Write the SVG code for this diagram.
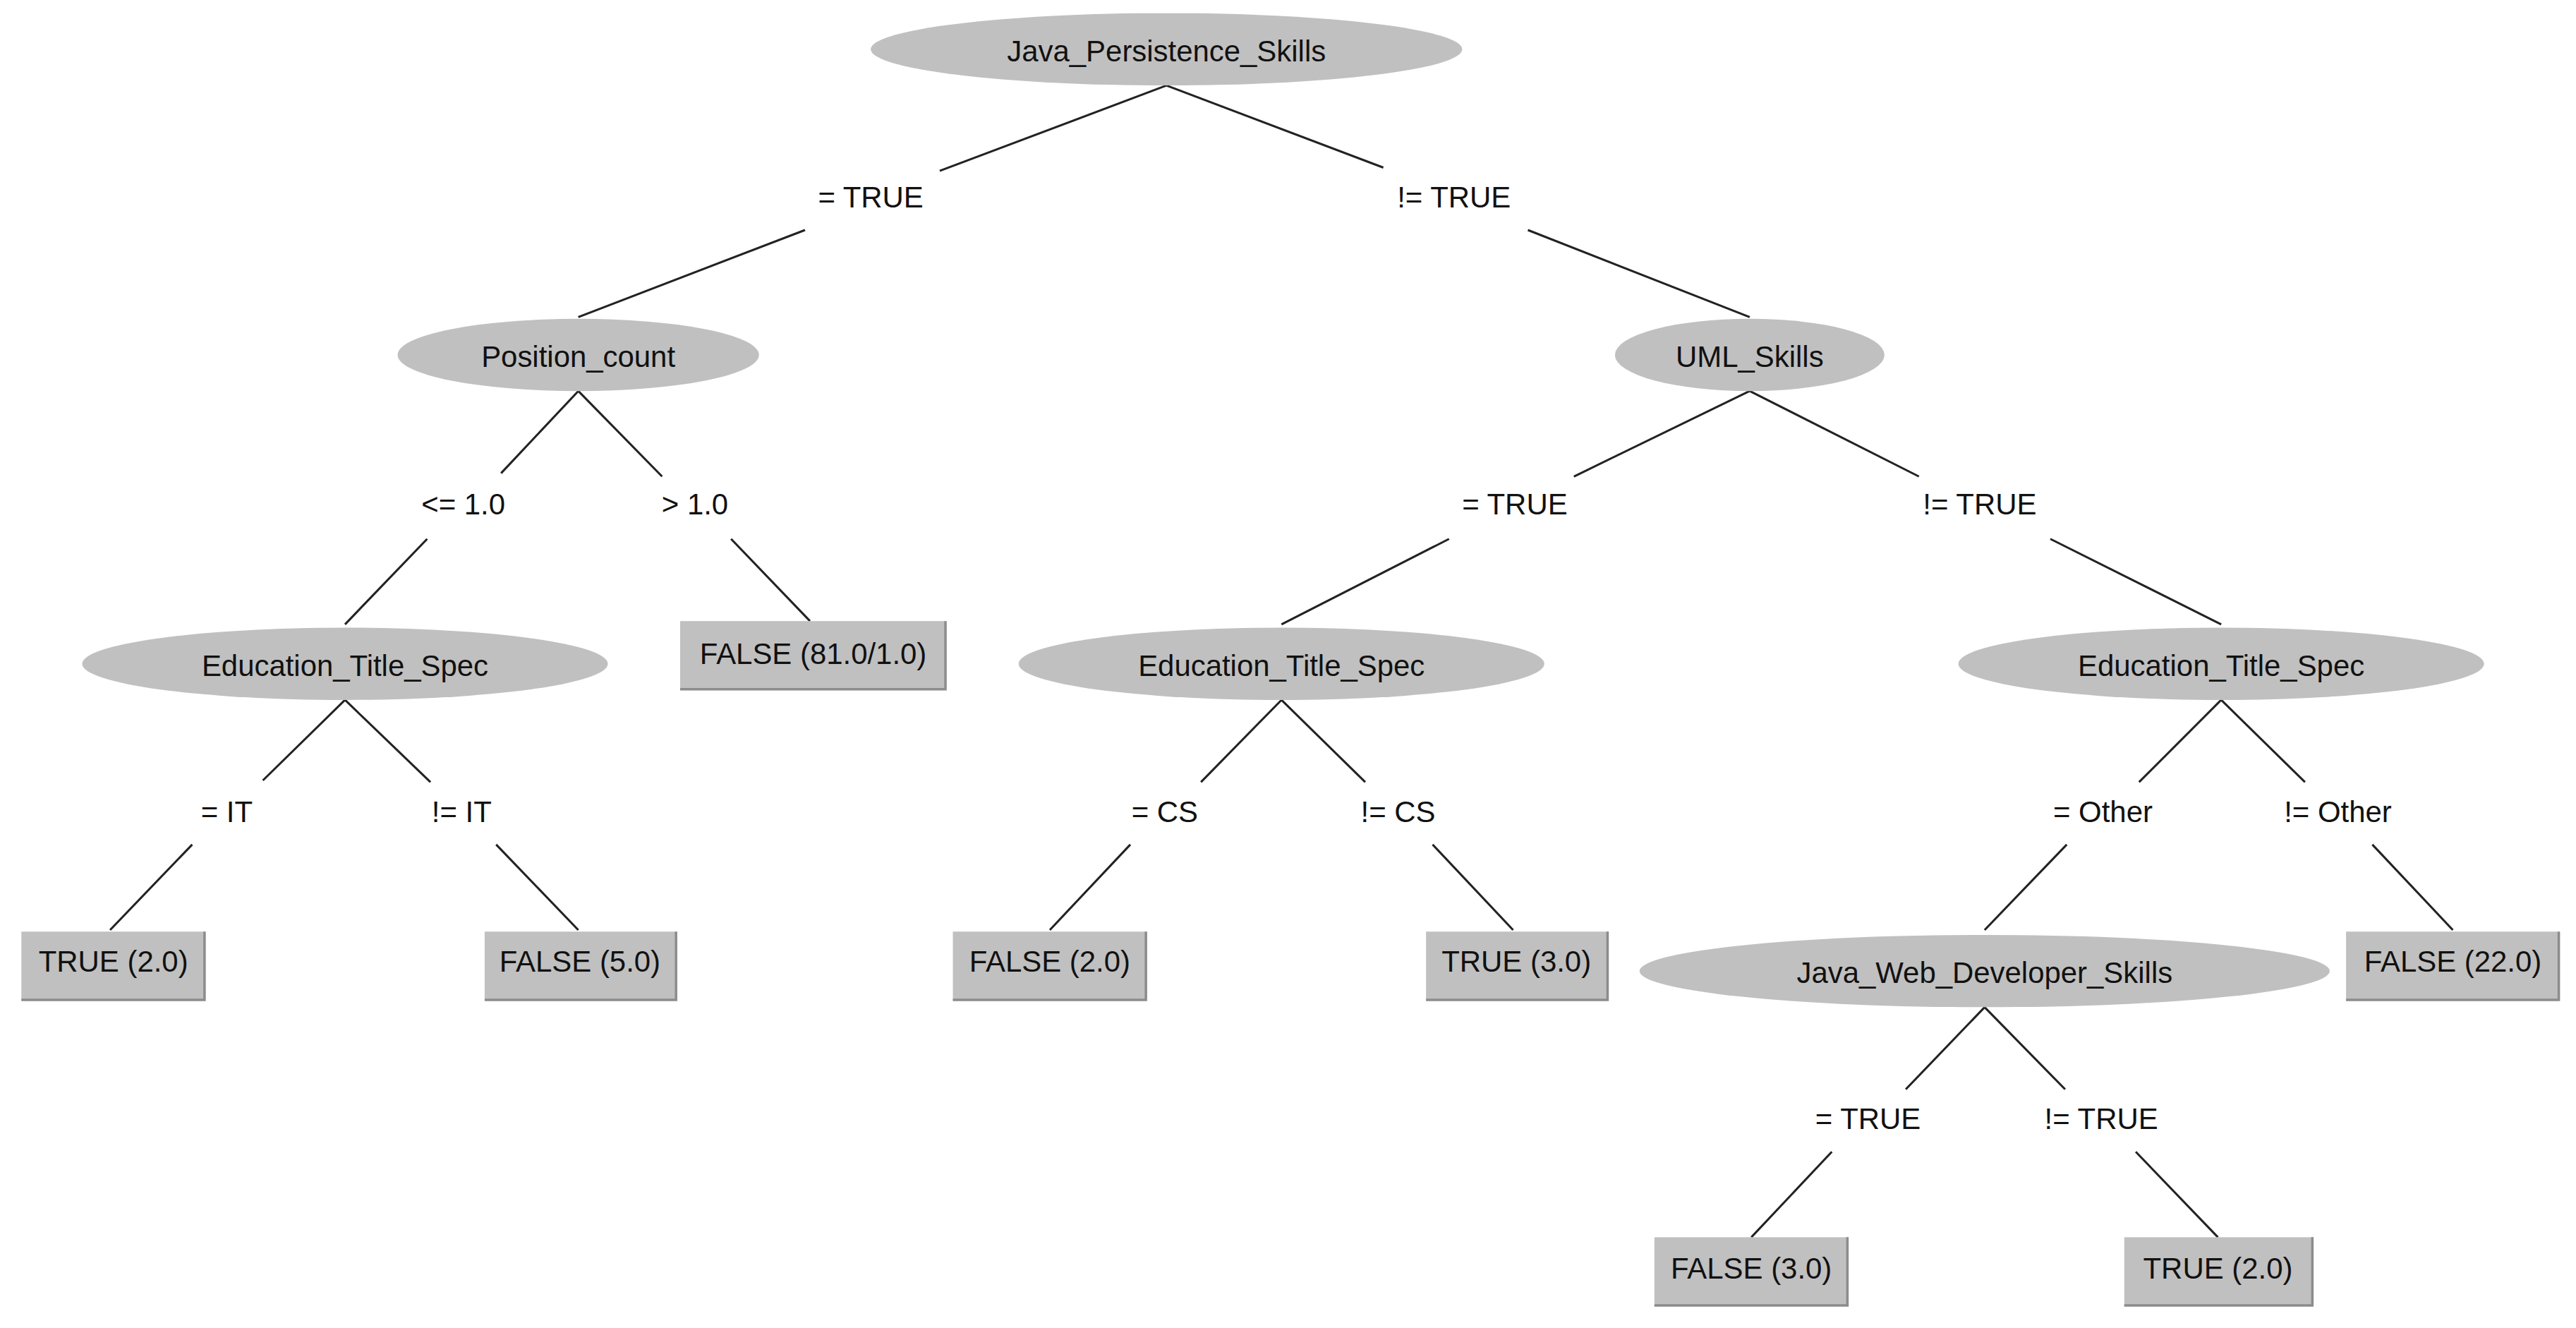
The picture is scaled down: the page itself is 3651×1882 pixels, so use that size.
<svg xmlns="http://www.w3.org/2000/svg" width="3651" height="1882" viewBox="0 0 3651 1882">
<style>
.e{fill:#c0c0c0}
.b{fill:#c0c0c0}
.sh{fill:none;stroke:#8c8c8c;stroke-width:1.5}
text{font-family:"Liberation Sans",Arial,sans-serif;font-size:18px;fill:#111;text-anchor:middle;dominant-baseline:central}
#edges line{stroke:#222;stroke-width:1.3}
</style>
<rect width="3651" height="1882" fill="#fff"/>
<g transform="scale(2.3285)">
<g id="edges">
<line x1="710" y1="52" x2="572" y2="104"/><line x1="490" y1="140" x2="352" y2="193"/>
<line x1="710" y1="52" x2="842" y2="102"/><line x1="930" y1="140" x2="1065" y2="193"/>
<line x1="352" y1="238" x2="305" y2="288"/><line x1="260" y1="328" x2="210" y2="380"/>
<line x1="352" y1="238" x2="403" y2="290"/><line x1="445" y1="328" x2="493" y2="378"/>
<line x1="210" y1="426" x2="160" y2="475"/><line x1="117" y1="514" x2="67" y2="566"/>
<line x1="210" y1="426" x2="262" y2="476"/><line x1="302" y1="514" x2="352" y2="566"/>
<line x1="1065" y1="238" x2="958" y2="290"/><line x1="882" y1="328" x2="780" y2="380"/>
<line x1="1065" y1="238" x2="1168" y2="290"/><line x1="1248" y1="328" x2="1352" y2="380"/>
<line x1="780" y1="426" x2="731" y2="476"/><line x1="688" y1="514" x2="639" y2="566"/>
<line x1="780" y1="426" x2="831" y2="476"/><line x1="872" y1="514" x2="921" y2="566"/>
<line x1="1352" y1="426" x2="1302" y2="476"/><line x1="1258" y1="514" x2="1208" y2="566"/>
<line x1="1352" y1="426" x2="1403" y2="476"/><line x1="1444" y1="514" x2="1493" y2="566"/>
<line x1="1208" y1="613" x2="1160" y2="663"/><line x1="1115" y1="701" x2="1066" y2="753"/>
<line x1="1208" y1="613" x2="1257" y2="663"/><line x1="1300" y1="701" x2="1350" y2="753"/>
<text x="530" y="120">= TRUE</text><text x="885" y="120">!= TRUE</text>
<text x="282" y="307">&lt;= 1.0</text><text x="423" y="307">&gt; 1.0</text>
<text x="138" y="494">= IT</text><text x="281" y="494">!= IT</text>
<text x="922" y="307">= TRUE</text><text x="1205" y="307">!= TRUE</text>
<text x="709" y="494">= CS</text><text x="851" y="494">!= CS</text>
<text x="1280" y="494">= Other</text><text x="1423" y="494">!= Other</text>
<text x="1137" y="681">= TRUE</text><text x="1279" y="681">!= TRUE</text>
</g>
<g id="n_root"><ellipse class="e" cx="710" cy="30" rx="180" ry="22"/><text x="710" y="31">Java_Persistence_Skills</text></g>
<g id="n_pos"><ellipse class="e" cx="352" cy="216" rx="110" ry="22"/><text x="352" y="217">Position_count</text></g>
<g id="n_edu1"><ellipse class="e" cx="210" cy="404" rx="160" ry="22"/><text x="210" y="405">Education_Title_Spec</text></g>
<g id="n_uml"><ellipse class="e" cx="1065" cy="216" rx="82" ry="22"/><text x="1065" y="217">UML_Skills</text></g>
<g id="n_edu2"><ellipse class="e" cx="780" cy="404" rx="160" ry="22"/><text x="780" y="405">Education_Title_Spec</text></g>
<g id="n_edu3"><ellipse class="e" cx="1352" cy="404" rx="160" ry="22"/><text x="1352" y="405">Education_Title_Spec</text></g>
<g id="n_jwds"><ellipse class="e" cx="1208" cy="591" rx="210" ry="22"/><text x="1208" y="592">Java_Web_Developer_Skills</text></g>
<g id="l_f81"><rect class="b" x="414" y="378" width="162" height="42"/><path class="sh" d="M414,419.5H575.5V378"/><text x="495" y="398">FALSE (81.0/1.0)</text></g>
<g id="l_t2a"><rect class="b" x="13" y="567" width="112" height="42"/><path class="sh" d="M13,608.5H124.5V567"/><text x="69" y="585">TRUE (2.0)</text></g>
<g id="l_f5"><rect class="b" x="295" y="567" width="117" height="42"/><path class="sh" d="M295,608.5H411.5V567"/><text x="353" y="585">FALSE (5.0)</text></g>
<g id="l_f2"><rect class="b" x="580" y="567" width="118" height="42"/><path class="sh" d="M580,608.5H697.5V567"/><text x="639" y="585">FALSE (2.0)</text></g>
<g id="l_t3"><rect class="b" x="868" y="567" width="111" height="42"/><path class="sh" d="M868,608.5H978.5V567"/><text x="923" y="585">TRUE (3.0)</text></g>
<g id="l_f22"><rect class="b" x="1428" y="567" width="130" height="42"/><path class="sh" d="M1428,608.5H1557.5V567"/><text x="1493" y="585">FALSE (22.0)</text></g>
<g id="l_f3"><rect class="b" x="1007" y="753" width="118" height="42"/><path class="sh" d="M1007,794.5H1124.5V753"/><text x="1066" y="772">FALSE (3.0)</text></g>
<g id="l_t2b"><rect class="b" x="1293" y="753" width="115" height="42"/><path class="sh" d="M1293,794.5H1407.5V753"/><text x="1350" y="772">TRUE (2.0)</text></g>
</g>
</svg>
